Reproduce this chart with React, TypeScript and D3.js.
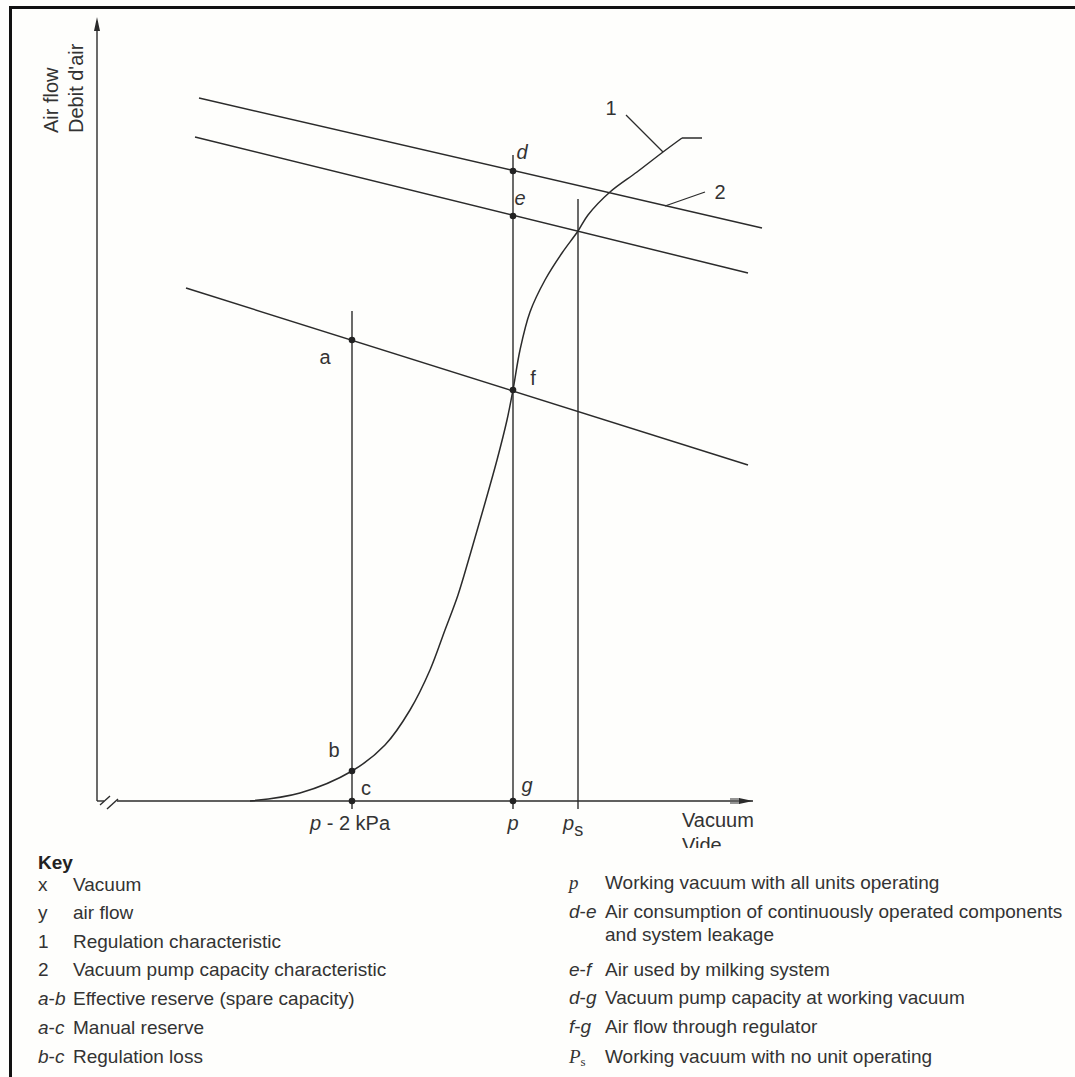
import React from 'react';
import * as d3 from 'd3';

// regulation characteristic (curve 1), vacuum vs air flow, chart units
const curveVacuum = [15.3, 20.3, 25.5, 28.8, 31.3, 33.3, 34.8, 36.1, 37.3, 38.6, 40.0, 41.0, 41.6, 42.3, 43.3, 44.8, 46.5, 48.1, 49.1, 51.3, 54.0, 56.6, 58.5, 60.5];
const curveFlow = [0, 0.8, 3.0, 5.6, 9.1, 13.1, 17.1, 20.6, 24.6, 29.1, 34.1, 38.1, 41.1, 45.1, 48.9, 52.1, 54.8, 57.0, 58.6, 60.9, 62.9, 64.9, 66.3, 66.3];

// straight characteristics (top one is the pump capacity, 2)
const lineStartX = [10.2, 9.8, 8.9];
const lineStartY = [70.3, 66.4, 51.3];
const lineEndX = [66.5, 65.1, 65.1];
const lineEndY = [57.3, 52.8, 33.6];

// vertical lines at p - 2 kPa, p, ps
const verticalX = [25.5, 41.6, 48.1];
const verticalTop = [49.0, 64.6, 60.2];

const pointNames = ['a', 'b', 'c', 'd', 'e', 'f', 'g'];
const pointX = [25.5, 25.5, 25.5, 41.6, 41.6, 41.6, 41.6];
const pointY = [46.1, 3.0, 0, 63.0, 58.5, 41.1, 0];
const pointItalic = [false, false, false, true, true, false, true];
const labelX = [22.8, 23.7, 26.9, 42.5, 42.3, 43.6, 43.0];
const labelY = [43.7, 4.4, 0.6, 64.2, 59.6, 41.6, 0.9];

const keyLeftSym = ['x', 'y', '1', '2', 'a-b', 'a-c', 'b-c'];
const keyLeftText = ['Vacuum', 'air flow', 'Regulation characteristic', 'Vacuum pump capacity characteristic', 'Effective reserve (spare capacity)', 'Manual reserve', 'Regulation loss'];
const keyRightSym = ['p', 'd-e', '', 'e-f', 'd-g', 'f-g', 'Ps'];
const keyRightText = ['Working vacuum with all units operating', 'Air consumption of continuously operated components', 'and system leakage', 'Air used by milking system', 'Vacuum pump capacity at working vacuum', 'Air flow through regulator', 'Working vacuum with no unit operating'];
const keyLeftBase = [891, 919, 948, 976, 1005, 1034, 1063];
const keyRightBase = [889, 918, 941, 976, 1004, 1033, 1063];

const W = 1075;
const H = 1077;
const ink = '#2b2b2b';
const txt = '#333';
const sans = '"Liberation Sans", Arial, sans-serif';
const serif = '"Liberation Serif", "Times New Roman", serif';

const x = d3.scaleLinear().domain([0, 66.3]).range([97, 760]);
const y = d3.scaleLinear().domain([0, 78.4]).range([801, 17]);

function Sym({ s }: { s: string }) {
  if (s === 'p') return <tspan fontFamily={serif} fontStyle="italic">p</tspan>;
  if (s === 'Ps')
    return (
      <tspan fontFamily={serif} fontStyle="italic">
        P<tspan fontStyle="normal" fontSize="13" dy="3">s</tspan>
      </tspan>
    );
  if (s.includes('-')) {
    const [l, r] = s.split('-');
    return (
      <>
        <tspan fontStyle="italic">{l}</tspan>-<tspan fontStyle="italic">{r}</tspan>
      </>
    );
  }
  return <tspan>{s}</tspan>;
}

export default function App() {
  const pts = curveVacuum.map((v, i) => [x(v), y(curveFlow[i])] as [number, number]);
  const smooth = d3.line().curve(d3.curveCatmullRom.alpha(0.5))(pts.slice(0, pts.length - 1));
  const hook = d3.line()(pts.slice(pts.length - 2));
  const x0 = x(0);
  const y0 = y(0);

  return (
    <svg width={W} height={H} style={{ position: 'absolute', left: 0, top: 0 }} fontFamily={sans}>
      <defs>
        <clipPath id="vide">
          <rect x={600} y={800} width={300} height={48} />
        </clipPath>
      </defs>
      <rect width={W} height={H} fill="#fefefc" />
      {/* frame */}
      <line x1={9} x2={W} y1={7.5} y2={7.5} stroke="#111" strokeWidth={3} />
      <line x1={10.5} x2={10.5} y1={6} y2={H} stroke="#111" strokeWidth={3} />

      {/* y axis */}
      <line x1={x0} x2={x0} y1={y0} y2={y(78.4) + 4} stroke={ink} strokeWidth={1.4} />
      <path d={`M${x0},${y(78.4)} L${x0 - 3},${y(78.4) + 14} L${x0 + 3},${y(78.4) + 14} Z`} fill={ink} />
      {/* x axis with break */}
      <line x1={x0} x2={x0 + 7} y1={y0} y2={y0} stroke={ink} strokeWidth={1.4} />
      <line x1={x0 + 3} x2={x0 + 13} y1={y0 + 4} y2={y0 - 5} stroke={ink} strokeWidth={1.4} />
      <line x1={x0 + 10} x2={x0 + 21} y1={y0 + 8} y2={y0 - 2} stroke={ink} strokeWidth={1.4} />
      <line x1={x0 + 20} x2={x(65.6)} y1={y0} y2={y0} stroke={ink} strokeWidth={1.4} />
      <path d={`M${x(65.6)},${y0} L${x(64.2)},${y0 - 3} L${x(64.2)},${y0 + 3} Z`} fill={ink} />
      <line x1={x(63.3)} x2={x(64.3)} y1={y0 - 2} y2={y0 - 2} stroke={ink} strokeWidth={1} />
      <line x1={x(63.3)} x2={x(64.3)} y1={y0 + 2} y2={y0 + 2} stroke={ink} strokeWidth={1} />

      {/* axis titles */}
      <text transform={`translate(58,133) rotate(-90)`} fontSize={20} fill={txt}>Air flow</text>
      <text transform={`translate(83,133) rotate(-90)`} fontSize={20} fill={txt}>Debit d'air</text>
      <text x={682} y={827} fontSize={20} fill={txt}>Vacuum</text>
      <text x={682} y={852} fontSize={20} fill={txt} clipPath="url(#vide)">Vide</text>

      {/* tick labels */}
      <text x={x(verticalX[0]) - 42} y={830} fontSize={20} fill={txt}>
        <tspan fontStyle="italic">p</tspan> - 2 kPa
      </text>
      <text x={x(verticalX[1])} y={830} fontSize={20} fill={txt} fontStyle="italic" textAnchor="middle">p</text>
      <text x={x(verticalX[2]) - 15} y={830} fontSize={20} fill={txt}>
        <tspan fontStyle="italic">p</tspan>
        <tspan dy={6} fontSize={18}>s</tspan>
      </text>

      {/* straight characteristics */}
      {lineStartX.map((sx, i) => (
        <line key={i} x1={x(sx)} y1={y(lineStartY[i])} x2={x(lineEndX[i])} y2={y(lineEndY[i])} stroke={ink} strokeWidth={1.5} />
      ))}

      {/* verticals */}
      {verticalX.map((vx, i) => (
        <line key={i} x1={x(vx)} x2={x(vx)} y1={y(verticalTop[i])} y2={y(-0.8)} stroke={ink} strokeWidth={1.4} />
      ))}

      {/* regulation curve */}
      <path d={smooth || ''} fill="none" stroke={ink} strokeWidth={1.5} />
      <path d={hook || ''} fill="none" stroke={ink} strokeWidth={1.5} />

      {/* leader lines */}
      <line x1={x(52.9)} y1={y(68.6)} x2={x(56.6)} y2={y(64.9)} stroke={ink} strokeWidth={1.3} />
      <text x={x(51.4)} y={y(68.6)} fontSize={20} fill={txt} textAnchor="middle">1</text>
      <line x1={x(56.8)} y1={y(59.5)} x2={x(60.8)} y2={y(60.9)} stroke={ink} strokeWidth={1.3} />
      <text x={x(62.3)} y={y(60.2)} fontSize={20} fill={txt} textAnchor="middle">2</text>

      {/* points */}
      {pointNames.map((n, i) => (
        <g key={n}>
          <circle cx={x(pointX[i])} cy={y(pointY[i])} r={3.3} fill="#222" />
          <text x={x(labelX[i])} y={y(labelY[i])} fontSize={20} fill={txt} fontStyle={pointItalic[i] ? 'italic' : 'normal'} textAnchor="middle">{n}</text>
        </g>
      ))}

      {/* key */}
      <text x={38} y={869} fontSize={19} fontWeight="bold" fill="#222">Key</text>
      {keyLeftSym.map((s, i) => (
        <g key={'l' + i} fontSize={19} fill={txt}>
          <text x={38} y={keyLeftBase[i]}><Sym s={s} /></text>
          <text x={73} y={keyLeftBase[i]}>{keyLeftText[i]}</text>
        </g>
      ))}
      {keyRightSym.map((s, i) => (
        <g key={'r' + i} fontSize={19} fill={txt}>
          <text x={569} y={keyRightBase[i]}><Sym s={s} /></text>
          <text x={605} y={keyRightBase[i]}>{keyRightText[i]}</text>
        </g>
      ))}
    </svg>
  );
}
